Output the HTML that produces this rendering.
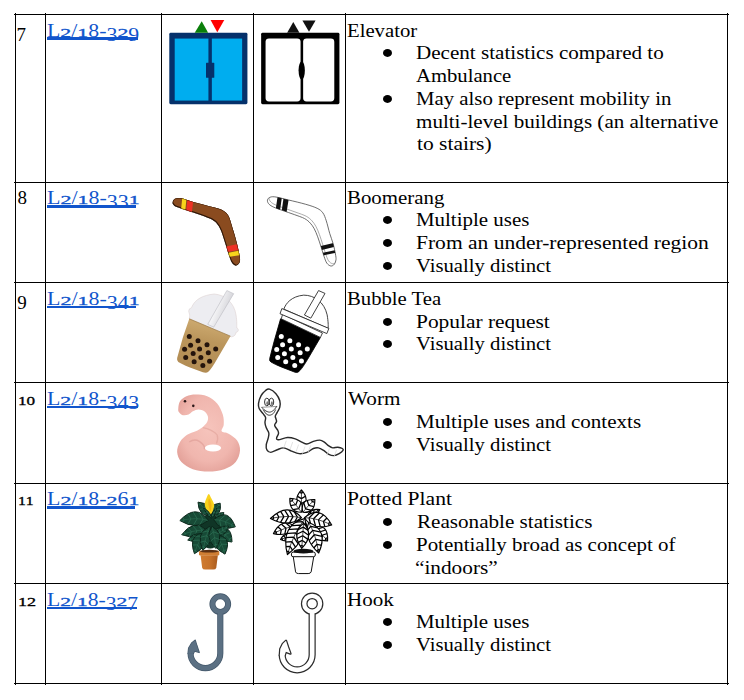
<!DOCTYPE html>
<html lang="en"><head><meta charset="utf-8"><title>Emoji candidates</title>
<style>
html,body{margin:0;padding:0;background:#fff}
body{width:744px;height:700px;position:relative;overflow:hidden;font-family:"Liberation Serif", serif;font-size:19px;color:#000}
.h,.v{position:absolute;background:#000}
.t{position:absolute;white-space:nowrap;line-height:19px;height:19px;transform-origin:0 0}
.lnk{color:#1155cc;text-decoration:none}
.ul{position:absolute;background:#1155cc}
.sm{display:inline-block;-webkit-text-stroke:.45px currentColor;transform:scaleY(.69);transform-origin:0 15.92px}
.lo{position:relative;top:4px}
.dot{position:absolute;width:9px;height:7.8px;border-radius:50%;background:#000}
.ic{position:absolute;width:100px;height:100px;overflow:visible}
</style></head><body>
<div class="h" style="left:14px;top:14px;width:715px;height:1px"></div>
<div class="h" style="left:14px;top:182px;width:715px;height:1px"></div>
<div class="h" style="left:14px;top:282px;width:715px;height:1px"></div>
<div class="h" style="left:14px;top:382px;width:715px;height:1px"></div>
<div class="h" style="left:14px;top:483px;width:715px;height:1px"></div>
<div class="h" style="left:14px;top:583px;width:715px;height:1px"></div>
<div class="h" style="left:14px;top:683px;width:715px;height:1px"></div>
<div class="v" style="left:15px;top:13px;width:1px;height:672px"></div>
<div class="v" style="left:45px;top:13px;width:1px;height:672px"></div>
<div class="v" style="left:161px;top:13px;width:1px;height:672px"></div>
<div class="v" style="left:253px;top:13px;width:1px;height:672px"></div>
<div class="v" style="left:345px;top:13px;width:1px;height:672px"></div>
<div class="v" style="left:727px;top:13px;width:1px;height:672px"></div>
<svg class="ic" style="left:160px;top:14px" viewBox="0 0 700 700" ><rect x="65" y="131" width="547" height="501" rx="10" fill="#05316b"/>
<rect x="103" y="172" width="236" height="434" fill="#00adef"/>
<rect x="363" y="172" width="212" height="434" fill="#00adef"/>
<rect x="322" y="342" width="58" height="104" rx="4" fill="#05316b"/>
<path d="M292 50L243 132H337Z" fill="#0a7f0a"/>
<path d="M354 42H450L401 127Z" fill="#ff0000"/></svg>
<svg class="ic" style="left:250px;top:14px" viewBox="0 0 700 700" ><rect x="78" y="131" width="548" height="501" rx="10" fill="#000"/>
<rect x="109" y="171" width="245" height="441" rx="24" fill="#fff"/>
<rect x="372" y="171" width="218" height="441" rx="24" fill="#fff"/>
<ellipse cx="362" cy="395" rx="22" ry="64" fill="#000"/>
<path d="M303 56L260 131H346Z" fill="#111"/>
<path d="M367 45H459L413 124Z" fill="#111"/></svg>
<svg class="ic" style="left:160px;top:182px" viewBox="0 0 700 700" ><defs><clipPath id="bc"><path d="M88.0 142.0C90.0 135.3 93.3 122.7 104.0 118.0C114.7 113.3 133.3 111.3 152.0 114.0C170.7 116.7 188.0 126.0 216.0 134.0C244.0 142.0 288.0 153.3 320.0 162.0C352.0 170.7 385.3 178.0 408.0 186.0C430.7 194.0 443.3 200.0 456.0 210.0C468.7 220.0 476.0 229.3 484.0 246.0C492.0 262.7 496.7 286.0 504.0 310.0C511.3 334.0 520.7 363.3 528.0 390.0C535.3 416.7 542.7 446.0 548.0 470.0C553.3 494.0 558.7 518.0 560.0 534.0C561.3 550.0 560.7 557.3 556.0 566.0C551.3 574.7 540.7 586.0 532.0 586.0C523.3 586.0 512.0 577.3 504.0 566.0C496.0 554.7 490.7 536.7 484.0 518.0C477.3 499.3 470.7 475.3 464.0 454.0C457.3 432.7 450.7 410.0 444.0 390.0C437.3 370.0 431.3 350.0 424.0 334.0C416.7 318.0 409.3 305.3 400.0 294.0C390.7 282.7 382.7 274.7 368.0 266.0C353.3 257.3 334.7 250.7 312.0 242.0C289.3 233.3 257.3 222.7 232.0 214.0C206.7 205.3 180.0 196.7 160.0 190.0C140.0 183.3 123.3 179.3 112.0 174.0C100.7 168.7 96.0 163.3 92.0 158.0C88.0 152.7 86.0 148.7 88.0 142.0Z"/></clipPath></defs>
<path d="M88.0 142.0C90.0 135.3 93.3 122.7 104.0 118.0C114.7 113.3 133.3 111.3 152.0 114.0C170.7 116.7 188.0 126.0 216.0 134.0C244.0 142.0 288.0 153.3 320.0 162.0C352.0 170.7 385.3 178.0 408.0 186.0C430.7 194.0 443.3 200.0 456.0 210.0C468.7 220.0 476.0 229.3 484.0 246.0C492.0 262.7 496.7 286.0 504.0 310.0C511.3 334.0 520.7 363.3 528.0 390.0C535.3 416.7 542.7 446.0 548.0 470.0C553.3 494.0 558.7 518.0 560.0 534.0C561.3 550.0 560.7 557.3 556.0 566.0C551.3 574.7 540.7 586.0 532.0 586.0C523.3 586.0 512.0 577.3 504.0 566.0C496.0 554.7 490.7 536.7 484.0 518.0C477.3 499.3 470.7 475.3 464.0 454.0C457.3 432.7 450.7 410.0 444.0 390.0C437.3 370.0 431.3 350.0 424.0 334.0C416.7 318.0 409.3 305.3 400.0 294.0C390.7 282.7 382.7 274.7 368.0 266.0C353.3 257.3 334.7 250.7 312.0 242.0C289.3 233.3 257.3 222.7 232.0 214.0C206.7 205.3 180.0 196.7 160.0 190.0C140.0 183.3 123.3 179.3 112.0 174.0C100.7 168.7 96.0 163.3 92.0 158.0C88.0 152.7 86.0 148.7 88.0 142.0Z" fill="#2e1606"/>
<g clip-path="url(#bc)">
<path d="M88.0 142.0C90.0 135.3 93.3 122.7 104.0 118.0C114.7 113.3 133.3 111.3 152.0 114.0C170.7 116.7 188.0 126.0 216.0 134.0C244.0 142.0 288.0 153.3 320.0 162.0C352.0 170.7 385.3 178.0 408.0 186.0C430.7 194.0 443.3 200.0 456.0 210.0C468.7 220.0 476.0 229.3 484.0 246.0C492.0 262.7 496.7 286.0 504.0 310.0C511.3 334.0 520.7 363.3 528.0 390.0C535.3 416.7 542.7 446.0 548.0 470.0C553.3 494.0 558.7 518.0 560.0 534.0C561.3 550.0 560.7 557.3 556.0 566.0C551.3 574.7 540.7 586.0 532.0 586.0C523.3 586.0 512.0 577.3 504.0 566.0C496.0 554.7 490.7 536.7 484.0 518.0C477.3 499.3 470.7 475.3 464.0 454.0C457.3 432.7 450.7 410.0 444.0 390.0C437.3 370.0 431.3 350.0 424.0 334.0C416.7 318.0 409.3 305.3 400.0 294.0C390.7 282.7 382.7 274.7 368.0 266.0C353.3 257.3 334.7 250.7 312.0 242.0C289.3 233.3 257.3 222.7 232.0 214.0C206.7 205.3 180.0 196.7 160.0 190.0C140.0 183.3 123.3 179.3 112.0 174.0C100.7 168.7 96.0 163.3 92.0 158.0C88.0 152.7 86.0 148.7 88.0 142.0Z" fill="#8a4b1f" transform="translate(5 -7)"/>
<path d="M157 100L186 106L176 212L146 204Z" fill="#f7d51c"/>
<path d="M194 106L234 118L222 224L182 212Z" fill="#ee3124"/>
<path d="M440 456L560 430L570 472L452 494Z" fill="#ee3124"/>
<path d="M452 500L572 478L580 508L460 528Z" fill="#f7d51c"/>
<path d="M88.0 142.0C90.0 135.3 93.3 122.7 104.0 118.0C114.7 113.3 133.3 111.3 152.0 114.0C170.7 116.7 188.0 126.0 216.0 134.0C244.0 142.0 288.0 153.3 320.0 162.0C352.0 170.7 385.3 178.0 408.0 186.0C430.7 194.0 443.3 200.0 456.0 210.0C468.7 220.0 476.0 229.3 484.0 246.0C492.0 262.7 496.7 286.0 504.0 310.0C511.3 334.0 520.7 363.3 528.0 390.0C535.3 416.7 542.7 446.0 548.0 470.0C553.3 494.0 558.7 518.0 560.0 534.0C561.3 550.0 560.7 557.3 556.0 566.0C551.3 574.7 540.7 586.0 532.0 586.0C523.3 586.0 512.0 577.3 504.0 566.0C496.0 554.7 490.7 536.7 484.0 518.0C477.3 499.3 470.7 475.3 464.0 454.0C457.3 432.7 450.7 410.0 444.0 390.0C437.3 370.0 431.3 350.0 424.0 334.0C416.7 318.0 409.3 305.3 400.0 294.0C390.7 282.7 382.7 274.7 368.0 266.0C353.3 257.3 334.7 250.7 312.0 242.0C289.3 233.3 257.3 222.7 232.0 214.0C206.7 205.3 180.0 196.7 160.0 190.0C140.0 183.3 123.3 179.3 112.0 174.0C100.7 168.7 96.0 163.3 92.0 158.0C88.0 152.7 86.0 148.7 88.0 142.0Z" fill="none" stroke="#2e1606" stroke-width="5"/>
</g></svg>
<svg class="ic" style="left:250px;top:182px" viewBox="0 0 700 700" ><defs><clipPath id="bw"><path d="M122.0 132.0C122.0 124.3 125.3 114.7 134.0 110.0C142.7 105.3 151.3 101.3 174.0 104.0C196.7 106.7 234.0 117.3 270.0 126.0C306.0 134.7 356.7 146.3 390.0 156.0C423.3 165.7 450.0 174.0 470.0 184.0C490.0 194.0 499.3 201.3 510.0 216.0C520.7 230.7 526.0 248.0 534.0 272.0C542.0 296.0 550.0 333.3 558.0 360.0C566.0 386.7 575.3 408.0 582.0 432.0C588.7 456.0 594.7 485.3 598.0 504.0C601.3 522.7 603.3 532.0 602.0 544.0C600.7 556.0 596.0 568.7 590.0 576.0C584.0 583.3 574.7 589.3 566.0 588.0C557.3 586.7 546.0 579.3 538.0 568.0C530.0 556.7 524.7 538.7 518.0 520.0C511.3 501.3 505.3 478.7 498.0 456.0C490.7 433.3 482.0 405.3 474.0 384.0C466.0 362.7 458.7 344.0 450.0 328.0C441.3 312.0 433.3 300.0 422.0 288.0C410.7 276.0 400.7 266.0 382.0 256.0C363.3 246.0 335.3 237.3 310.0 228.0C284.7 218.7 254.0 208.7 230.0 200.0C206.0 191.3 182.0 183.3 166.0 176.0C150.0 168.7 141.3 163.3 134.0 156.0C126.7 148.7 122.0 139.7 122.0 132.0Z"/></clipPath></defs>
<path d="M122.0 132.0C122.0 124.3 125.3 114.7 134.0 110.0C142.7 105.3 151.3 101.3 174.0 104.0C196.7 106.7 234.0 117.3 270.0 126.0C306.0 134.7 356.7 146.3 390.0 156.0C423.3 165.7 450.0 174.0 470.0 184.0C490.0 194.0 499.3 201.3 510.0 216.0C520.7 230.7 526.0 248.0 534.0 272.0C542.0 296.0 550.0 333.3 558.0 360.0C566.0 386.7 575.3 408.0 582.0 432.0C588.7 456.0 594.7 485.3 598.0 504.0C601.3 522.7 603.3 532.0 602.0 544.0C600.7 556.0 596.0 568.7 590.0 576.0C584.0 583.3 574.7 589.3 566.0 588.0C557.3 586.7 546.0 579.3 538.0 568.0C530.0 556.7 524.7 538.7 518.0 520.0C511.3 501.3 505.3 478.7 498.0 456.0C490.7 433.3 482.0 405.3 474.0 384.0C466.0 362.7 458.7 344.0 450.0 328.0C441.3 312.0 433.3 300.0 422.0 288.0C410.7 276.0 400.7 266.0 382.0 256.0C363.3 246.0 335.3 237.3 310.0 228.0C284.7 218.7 254.0 208.7 230.0 200.0C206.0 191.3 182.0 183.3 166.0 176.0C150.0 168.7 141.3 163.3 134.0 156.0C126.7 148.7 122.0 139.7 122.0 132.0Z" fill="#fff" stroke="#555" stroke-width="6"/>
<g clip-path="url(#bw)">
<path d="M122.0 132.0C122.0 124.3 125.3 114.7 134.0 110.0C142.7 105.3 151.3 101.3 174.0 104.0C196.7 106.7 234.0 117.3 270.0 126.0C306.0 134.7 356.7 146.3 390.0 156.0C423.3 165.7 450.0 174.0 470.0 184.0C490.0 194.0 499.3 201.3 510.0 216.0C520.7 230.7 526.0 248.0 534.0 272.0C542.0 296.0 550.0 333.3 558.0 360.0C566.0 386.7 575.3 408.0 582.0 432.0C588.7 456.0 594.7 485.3 598.0 504.0C601.3 522.7 603.3 532.0 602.0 544.0C600.7 556.0 596.0 568.7 590.0 576.0C584.0 583.3 574.7 589.3 566.0 588.0C557.3 586.7 546.0 579.3 538.0 568.0C530.0 556.7 524.7 538.7 518.0 520.0C511.3 501.3 505.3 478.7 498.0 456.0C490.7 433.3 482.0 405.3 474.0 384.0C466.0 362.7 458.7 344.0 450.0 328.0C441.3 312.0 433.3 300.0 422.0 288.0C410.7 276.0 400.7 266.0 382.0 256.0C363.3 246.0 335.3 237.3 310.0 228.0C284.7 218.7 254.0 208.7 230.0 200.0C206.0 191.3 182.0 183.3 166.0 176.0C150.0 168.7 141.3 163.3 134.0 156.0C126.7 148.7 122.0 139.7 122.0 132.0Z" fill="none" stroke="#888" stroke-width="5" transform="translate(12 -16)"/>
<path d="M194 96L224 102L210 200L180 192Z" fill="#111"/>
<path d="M236 104L272 114L256 212L222 202Z" fill="#111"/>
<path d="M480 452L600 424L606 450L488 480Z" fill="#111"/>
<path d="M494 498L612 474L616 492L500 516Z" fill="#111"/>
</g></svg>
<svg class="ic" style="left:160px;top:282px" viewBox="0 0 700 700" ><defs><linearGradient id="tg" x1="0.3" y1="0" x2="0.1" y2="1"><stop offset="0" stop-color="#cdaa70"/><stop offset="0.35" stop-color="#bb965c"/><stop offset="1" stop-color="#b08a52"/></linearGradient>
<linearGradient id="sg" x1="0" y1="0" x2="1" y2="0.55"><stop offset="0" stop-color="#c2c2c8"/><stop offset="0.45" stop-color="#f4f4f6"/><stop offset="1" stop-color="#c6c6cc"/></linearGradient></defs>
<path d="M205 256 C215 215 195 215 203 196 C205 180 222 190 226 168 C250 120 300 92 380 84 C460 90 520 150 532 230 C540 280 536 300 538 322 C556 330 548 352 532 352 C530 370 520 382 500 384 Z" fill="#ededf1" stroke="#dccfd0" stroke-width="4"/>
<path d="M205 258 L493 379 L404 532 Q360 610 340 626 Q326 640 300 632 L205 596 Q150 575 128 560 Q116 550 120 532 L160 388 Z" fill="url(#tg)"/>
<path d="M205 258 L493 379" stroke="#9a7842" stroke-width="5" fill="none"/>
<path d="M468 60 L516 82 L376 316 L334 296 Z" fill="url(#sg)" stroke="#b9b9c0" stroke-width="4" stroke-linejoin="round"/>
<g fill="#24140c"><circle cx="205" cy="382" r="17.5"/><circle cx="266" cy="411" r="17.5"/><circle cx="214" cy="442" r="17.5"/><circle cx="329" cy="440" r="17.5"/><circle cx="172" cy="471" r="17.5"/><circle cx="277" cy="469" r="17.5"/><circle cx="390" cy="469" r="17.5"/><circle cx="232" cy="501" r="17.5"/><circle cx="338" cy="496" r="17.5"/><circle cx="180" cy="528" r="17.5"/><circle cx="286" cy="529" r="17.5"/><circle cx="239" cy="559" r="17.5"/><circle cx="347" cy="555" r="17.5"/><circle cx="300" cy="584" r="17.5"/></g></svg>
<svg class="ic" style="left:250px;top:282px" viewBox="0 0 700 700" ><g stroke="#222" stroke-width="6" stroke-linejoin="round" fill="#fff">
<path d="M237 190 C250 150 290 100 376 92 C450 92 520 140 540 230 C548 280 548 300 547 325 Z"/>
<path d="M480 60 L525 80 L426 253 L381 231 Z"/>
<path d="M214 258 L493 388 L430 496 Q370 600 349 620 Q338 638 316 632 L223 596 Q170 575 147 560 Q134 552 138 536 L169 415 Z" fill="#000" stroke="#000"/>
<path d="M228 226 L219 258 L493 388 L507 357 Z"/>
<path d="M223 186 L210 222 L538 361 L552 325 Z"/>
</g>
<g fill="#fff"><circle cx="219" cy="381" r="17.5"/><circle cx="279" cy="411" r="17.5"/><circle cx="228" cy="440" r="17.5"/><circle cx="340" cy="440" r="17.5"/><circle cx="187" cy="472" r="17.5"/><circle cx="289" cy="469" r="17.5"/><circle cx="401" cy="469" r="17.5"/><circle cx="241" cy="502" r="17.5"/><circle cx="351" cy="496" r="17.5"/><circle cx="194" cy="529" r="17.5"/><circle cx="300" cy="529" r="17.5"/><circle cx="250" cy="559" r="17.5"/><circle cx="360" cy="553" r="17.5"/><circle cx="313" cy="584" r="17.5"/></g></svg>
<svg class="ic" style="left:160px;top:382px" viewBox="0 0 700 700" ><defs><radialGradient id="wg" cx="0.5" cy="0.45" r="0.6"><stop offset="0" stop-color="#f6c4bc"/><stop offset="0.7" stop-color="#f0b6ae"/><stop offset="1" stop-color="#e4a29a"/></radialGradient></defs>
<path d="M128.0 185.0C129.2 172.2 130.5 149.2 140.0 135.0C149.5 120.8 166.7 107.8 185.0 100.0C203.3 92.2 225.8 88.0 250.0 88.0C274.2 88.0 305.0 89.7 330.0 100.0C355.0 110.3 381.7 128.3 400.0 150.0C418.3 171.7 432.3 205.0 440.0 230.0C447.7 255.0 447.3 280.8 446.0 300.0C444.7 319.2 426.3 334.7 432.0 345.0C437.7 355.3 462.0 351.2 480.0 362.0C498.0 372.8 526.7 390.3 540.0 410.0C553.3 429.7 561.7 455.0 560.0 480.0C558.3 505.0 548.3 538.3 530.0 560.0C511.7 581.7 481.7 599.0 450.0 610.0C418.3 621.0 376.7 626.0 340.0 626.0C303.3 626.0 261.7 621.0 230.0 610.0C198.3 599.0 168.3 580.0 150.0 560.0C131.7 540.0 121.7 513.3 120.0 490.0C118.3 466.7 128.3 440.0 140.0 420.0C151.7 400.0 171.7 382.5 190.0 370.0C208.3 357.5 232.5 353.7 250.0 345.0C267.5 336.3 281.7 328.8 295.0 318.0C308.3 307.2 323.3 293.0 330.0 280.0C336.7 267.0 338.3 252.5 335.0 240.0C331.7 227.5 320.8 213.0 310.0 205.0C299.2 197.0 283.3 192.0 270.0 192.0C256.7 192.0 241.7 199.0 230.0 205.0C218.3 211.0 211.7 223.5 200.0 228.0C188.3 232.5 171.2 234.7 160.0 232.0C148.8 229.3 138.3 219.8 133.0 212.0C127.7 204.2 126.8 197.8 128.0 185.0Z" fill="url(#wg)"/>
<path d="M205 420 Q240 395 275 415 Q320 445 310 470" fill="none" stroke="#e0a098" stroke-width="10" opacity=".7"/>
<path d="M300 320 Q360 330 400 370 Q410 400 395 430" fill="none" stroke="#e3a59d" stroke-width="9" opacity=".7"/>
<ellipse cx="371" cy="462" rx="57" ry="25" fill="#fff"/>
<circle cx="175" cy="135" r="9" fill="#2a1718"/><circle cx="233" cy="167" r="9" fill="#2a1718"/></svg>
<svg class="ic" style="left:250px;top:382px" viewBox="0 0 700 700" ><path d="M136.4 50.1C148.4 53.9 169.5 68.2 181.5 81.7C193.5 95.3 204.1 115.6 208.6 131.4C213.1 147.2 211.6 163.0 208.6 176.5C205.6 190.1 195.8 202.1 190.5 212.7C185.3 223.2 177.7 229.2 177.0 239.8C176.2 250.3 186.8 265.3 186.0 275.9C185.3 286.4 171.0 292.4 172.5 303.0C174.0 313.5 190.5 329.3 195.1 339.1C199.6 348.9 201.1 352.6 199.6 361.7C198.1 370.7 186.0 386.2 186.0 393.3C186.0 400.3 186.8 404.8 199.6 404.1C212.4 403.3 243.2 389.8 262.8 388.7C282.3 387.7 300.4 392.5 317.0 397.8C333.5 403.0 348.6 414.3 362.1 420.4C375.7 426.4 384.7 434.6 398.2 433.9C411.8 433.1 428.3 420.4 443.4 415.8C458.4 411.3 475.7 406.1 488.5 406.8C501.3 407.6 509.6 413.6 520.1 420.4C530.7 427.1 542.0 440.7 551.7 447.4C561.5 454.2 568.3 459.5 578.8 461.0C589.4 462.5 603.7 455.7 615.0 456.5C626.2 457.2 640.5 461.7 646.6 465.5C652.6 469.3 654.8 473.0 651.1 479.0C647.3 485.1 634.5 495.6 624.0 501.6C613.4 507.6 599.9 514.4 587.9 515.2C575.8 515.9 563.8 512.2 551.7 506.1C539.7 500.1 527.7 486.6 515.6 479.0C503.6 471.5 491.5 463.2 479.5 461.0C467.5 458.7 456.9 460.2 443.4 465.5C429.8 470.8 414.8 486.6 398.2 492.6C381.7 498.6 362.1 503.1 344.1 501.6C326.0 500.1 307.9 490.3 289.9 483.6C271.8 476.8 252.2 462.5 235.7 461.0C219.1 459.5 205.6 469.3 190.5 474.5C175.5 479.8 157.4 492.6 145.4 492.6C133.3 492.6 123.6 483.6 118.3 474.5C113.0 465.5 112.3 452.0 113.8 438.4C115.3 424.9 124.3 406.8 127.3 393.3C130.3 379.7 134.1 369.2 131.8 357.1C129.6 345.1 118.3 333.1 113.8 321.0C109.3 309.0 105.5 296.9 104.8 284.9C104.0 272.9 111.5 259.3 109.3 248.8C107.0 238.2 98.7 232.2 91.2 221.7C83.7 211.2 69.4 197.6 64.1 185.6C58.9 173.5 57.3 164.5 59.6 149.5C61.9 134.4 69.4 110.3 77.7 95.3C85.9 80.2 99.5 66.7 109.3 59.1C119.1 51.6 124.3 46.4 136.4 50.1Z" fill="#fff" stroke="#2a2a2a" stroke-width="10" stroke-linejoin="round"/>
<g fill="none" stroke="#333" stroke-width="7">
<ellipse cx="118" cy="140" rx="16" ry="27"/><ellipse cx="150" cy="140" rx="16" ry="27"/>
<path d="M80.4 174.7C84.4 178.8 95.4 193.1 104.8 199.1C114.1 205.1 126.6 210.9 136.4 210.9C146.1 210.9 154.7 206.0 163.5 199.1C172.2 192.2 184.5 174.3 188.7 169.3"/><path d="M91.2 192.8C95.0 197.9 106.0 216.9 113.8 223.5C121.6 230.1 129.9 233.1 138.2 232.5C146.4 231.9 156.5 226.5 163.5 219.9C170.4 213.3 177.0 197.3 179.7 192.8"/>
<path d="M82 177L189 171" stroke-width="3.5"/>
</g>
<ellipse cx="121" cy="148" rx="7" ry="13" fill="#777"/><ellipse cx="153" cy="148" rx="7" ry="13" fill="#777"/>
<g stroke="#d8d8d8" stroke-width="5" fill="none"><path d="M254 411l-18 50" /><path d="M299 420l-18 50" /><path d="M340 438l-18 50" /><path d="M385 452l-18 50" /><path d="M425 443l-18 50" /><path d="M556 466l-18 50" /><path d="M606 475l-18 50" /></g></svg>
<svg class="ic" style="left:160px;top:583px" viewBox="0 0 700 700" ><g fill="none" stroke="#43576a" stroke-linejoin="round"><circle cx="422" cy="147.5" r="55.0" stroke-width="42"/><path d="M422 205L422 492A104 104 0 0 1 214 492" stroke-width="43"/><polygon points="197,494 201,455 222,420 246,401 258,440 274,486 243,476 232,494" fill="#43576a" stroke-width="10"/></g><g fill="none" stroke="#5b7083" stroke-linejoin="round"><circle cx="422" cy="147.5" r="55.0" stroke-width="32"/><path d="M422 205L422 492A104 104 0 0 1 214 492" stroke-width="33"/><polygon points="197,494 201,455 222,420 246,401 258,440 274,486 243,476 232,494" fill="#5b7083" stroke="none"/></g></svg>
<svg class="ic" style="left:250px;top:583px" viewBox="0 0 700 700" ><g fill="none" stroke="#2b2b2b" stroke-linejoin="round"><circle cx="435" cy="145" r="55.5" stroke-width="47"/><path d="M435 210L435 503A104.7 104.7 0 0 1 225.3 503" stroke-width="50"/><polygon points="209,505 212,462 230,426 252,405 266,448 283,494 251,482 243,505" fill="#2b2b2b" stroke-width="17"/></g><g fill="none" stroke="#ffffff" stroke-linejoin="round"><circle cx="435" cy="145" r="55.5" stroke-width="30.0"/><path d="M435 210L435 503A104.7 104.7 0 0 1 225.3 503" stroke-width="33"/><polygon points="209,505 212,462 230,426 252,405 266,448 283,494 251,482 243,505" fill="#ffffff" stroke="none"/></g></svg>
<svg class="ic" style="left:160px;top:483px" viewBox="0 0 700 700" ><defs><linearGradient id="pg" x1="0" y1="0" x2="1" y2="0"><stop offset="0" stop-color="#d07c30"/><stop offset="0.55" stop-color="#c6722a"/><stop offset="1" stop-color="#a85a1e"/></linearGradient></defs><path d="M284 506L405 506L394 593Q390 606 373 606L316 606Q299 606 295 593Z" fill="url(#pg)"/><rect x="273" y="474" width="142" height="34" rx="10" fill="#cf7e33"/><ellipse cx="345" cy="477" rx="65" ry="10" fill="#5a2f12"/><ellipse cx="352" cy="338" rx="80" ry="120" fill="#103526"/><clipPath id="lf1"><path d="M352 232Q372 142 266 134Q270 231 352 232Z"/></clipPath><path d="M352 232Q372 142 266 134Q270 231 352 232Z" fill="#174a36" stroke="#0b2419" stroke-width="7" stroke-linejoin="round"/><g clip-path="url(#lf1)" fill="none" stroke="#2f7357"><path d="M333 206L348 161M333 206L286 215M310 179L325 134M310 179L264 188M284 151L299 106M284 151L238 160" stroke-width="5"/><path d="M352 232Q321 186 266 134" stroke-width="4"/></g><clipPath id="lf2"><path d="M360 232Q436 228 421 141Q324 152 360 232Z"/></clipPath><path d="M360 232Q436 228 421 141Q324 152 360 232Z" fill="#174a36" stroke="#0b2419" stroke-width="7" stroke-linejoin="round"/><g clip-path="url(#lf2)" fill="none" stroke="#2f7357"><path d="M373 208L420 211M373 208L352 165M389 183L436 186M389 183L368 140M408 157L455 160M408 157L388 114" stroke-width="5"/><path d="M360 232Q380 190 421 141" stroke-width="4"/></g><clipPath id="lf3"><path d="M386 262Q440 272 447 207Q382 206 386 262Z"/></clipPath><path d="M386 262Q440 272 447 207Q382 206 386 262Z" fill="#174a36" stroke="#0b2419" stroke-width="7" stroke-linejoin="round"/><g clip-path="url(#lf3)" fill="none" stroke="#2f7357"><path d="M401 248L430 258M401 248L395 218M417 233L446 243M417 233L411 203M435 217L464 227M435 217L429 187" stroke-width="5"/><path d="M386 262Q411 239 447 207" stroke-width="4"/></g><clipPath id="lf4"><path d="M339 262Q254 141 139 263Q255 333 339 262Z"/></clipPath><path d="M339 262Q254 141 139 263Q255 333 339 262Z" fill="#174a36" stroke="#0b2419" stroke-width="7" stroke-linejoin="round"/><g clip-path="url(#lf4)" fill="none" stroke="#2f7357"><path d="M301 253L267 196M301 253L268 311M260 250L226 192M260 250L227 308M216 251L182 194M216 251L183 309M169 257L135 200M169 257L136 315" stroke-width="5"/><path d="M339 262Q255 237 139 263" stroke-width="4"/></g><clipPath id="lf5"><path d="M377 257Q419 343 527 307Q476 168 377 257Z"/></clipPath><path d="M377 257Q419 343 527 307Q476 168 377 257Z" fill="#174a36" stroke="#0b2419" stroke-width="7" stroke-linejoin="round"/><g clip-path="url(#lf5)" fill="none" stroke="#2f7357"><path d="M417 260L430 323M417 260L465 218M458 272L472 334M458 272L506 229M501 291L515 353M501 291L549 249" stroke-width="5"/><path d="M377 257Q448 255 527 307" stroke-width="4"/></g><clipPath id="lf6"><path d="M330 330Q238 246 152 362Q266 403 330 330Z"/></clipPath><path d="M330 330Q238 246 152 362Q266 403 330 330Z" fill="#174a36" stroke="#0b2419" stroke-width="7" stroke-linejoin="round"/><g clip-path="url(#lf6)" fill="none" stroke="#2f7357"><path d="M295 329L259 287M295 329L276 382M258 333L222 291M258 333L239 385M219 341L183 299M219 341L200 393M178 353L141 311M178 353L159 405" stroke-width="5"/><path d="M330 330Q252 325 152 362" stroke-width="4"/></g><clipPath id="lf7"><path d="M390 321Q397 411 504 413Q502 279 390 321Z"/></clipPath><path d="M390 321Q397 411 504 413Q502 279 390 321Z" fill="#174a36" stroke="#0b2419" stroke-width="7" stroke-linejoin="round"/><g clip-path="url(#lf7)" fill="none" stroke="#2f7357"><path d="M423 338L414 395M423 338L477 317M455 361L446 419M455 361L509 340M486 391L478 449M486 391L541 370" stroke-width="5"/><path d="M390 321Q450 345 504 413" stroke-width="4"/></g><clipPath id="lf8"><path d="M313 376Q252 326 194 399Q272 429 313 376Z"/></clipPath><path d="M313 376Q252 326 194 399Q272 429 313 376Z" fill="#174a36" stroke="#0b2419" stroke-width="7" stroke-linejoin="round"/><g clip-path="url(#lf8)" fill="none" stroke="#2f7357"><path d="M283 379L260 351M283 379L271 413M251 384L227 357M251 384L239 418M216 393L193 365M216 393L204 427" stroke-width="5"/><path d="M313 376Q262 378 194 399" stroke-width="4"/></g><clipPath id="lf9"><path d="M394 364Q460 380 479 302Q399 296 394 364Z"/></clipPath><path d="M394 364Q460 380 479 302Q399 296 394 364Z" fill="#174a36" stroke="#0b2419" stroke-width="7" stroke-linejoin="round"/><g clip-path="url(#lf9)" fill="none" stroke="#2f7357"><path d="M415 348L448 363M415 348L411 313M438 332L471 347M438 332L434 296M463 314L496 329M463 314L459 278" stroke-width="5"/><path d="M394 364Q430 338 479 302" stroke-width="4"/></g><clipPath id="lf10"><path d="M322 346Q191 356 241 495Q346 440 322 346Z"/></clipPath><path d="M322 346Q191 356 241 495Q346 440 322 346Z" fill="#174a36" stroke="#0b2419" stroke-width="7" stroke-linejoin="round"/><g clip-path="url(#lf10)" fill="none" stroke="#2f7357"><path d="M300 371L239 373M300 371L331 423M280 400L219 402M280 400L312 452M263 433L202 435M263 433L295 486M249 471L187 473M249 471L280 523" stroke-width="5"/><path d="M322 346Q268 398 241 495" stroke-width="4"/></g><clipPath id="lf11"><path d="M386 364Q356 450 455 498Q512 369 386 364Z"/></clipPath><path d="M386 364Q356 450 455 498Q512 369 386 364Z" fill="#174a36" stroke="#0b2419" stroke-width="7" stroke-linejoin="round"/><g clip-path="url(#lf11)" fill="none" stroke="#2f7357"><path d="M410 392L378 444M410 392L472 395M431 428L398 479M431 428L492 431M447 470L415 521M447 470L509 473" stroke-width="5"/><path d="M386 364Q434 410 455 498" stroke-width="4"/></g><clipPath id="lf12"><path d="M347 304Q244 351 300 471Q398 394 347 304Z"/></clipPath><path d="M347 304Q244 351 300 471Q398 394 347 304Z" fill="#174a36" stroke="#0b2419" stroke-width="7" stroke-linejoin="round"/><g clip-path="url(#lf12)" fill="none" stroke="#2f7357"><path d="M336 335L282 349M336 335L375 375M326 369L272 383M326 369L364 409M315 406L262 420M315 406L354 446M306 446L252 460M306 446L345 486" stroke-width="5"/><path d="M347 304Q321 373 300 471" stroke-width="4"/></g><clipPath id="lf13"><path d="M364 304Q308 381 392 459Q458 354 364 304Z"/></clipPath><path d="M364 304Q308 381 392 459Q458 354 364 304Z" fill="#174a36" stroke="#0b2419" stroke-width="7" stroke-linejoin="round"/><g clip-path="url(#lf13)" fill="none" stroke="#2f7357"><path d="M374 342L334 376M374 342L423 360M382 383L342 418M382 383L432 401M389 429L349 463M389 429L438 447" stroke-width="5"/><path d="M364 304Q383 368 392 459" stroke-width="4"/></g><path d="M341.3 76.2C347.2 76.2 353.8 96.0 360.0 108.5C366.2 121.0 377.0 136.8 378.7 151.0C380.4 165.2 375.0 181.5 370.2 193.5C365.4 205.5 356.9 223.2 349.8 223.2C342.7 223.2 333.8 205.5 327.7 193.5C321.6 181.5 313.8 165.2 313.2 151.0C312.7 136.8 319.6 121.0 324.3 108.5C329.0 96.0 335.3 76.2 341.3 76.2Z" fill="#f8d21c"/><path d="M343.0 108.5C346.5 108.5 358.3 136.1 360.0 151.0C361.7 165.9 356.7 197.8 353.2 197.8C349.7 197.8 340.4 165.9 338.8 151.0C337.1 136.1 339.5 108.5 343.0 108.5Z" fill="#f2b312"/><clipPath id="lf14"><path d="M360 244Q355 201 305 176Q327 224 360 244Z"/></clipPath><path d="M360 244Q355 201 305 176Q327 224 360 244Z" fill="#174a36" stroke="#0b2419" stroke-width="7" stroke-linejoin="round"/><g clip-path="url(#lf14)" fill="none" stroke="#2f7357"><path d="M348 226L353 215M348 226L336 228M334 208L338 196M334 208L321 209M316 188L321 177M316 188L304 190" stroke-width="5"/><path d="M360 244Q341 212 305 176" stroke-width="4"/></g><clipPath id="lf15"><path d="M360 246Q387 223 398 176Q355 205 360 246Z"/></clipPath><path d="M360 246Q387 223 398 176Q355 205 360 246Z" fill="#174a36" stroke="#0b2419" stroke-width="7" stroke-linejoin="round"/><g clip-path="url(#lf15)" fill="none" stroke="#2f7357"><path d="M367 228L380 228M367 228L361 217M377 209L390 208M377 209L371 198M390 189L402 189M390 189L383 178" stroke-width="5"/><path d="M360 246Q371 214 398 176" stroke-width="4"/></g></svg>
<svg class="ic" style="left:250px;top:483px" viewBox="0 0 700 700" ><path d="M302 511L447 511L428 622Q424 634 407 634L339 634Q322 634 319 622Z" fill="#fff" stroke="#111" stroke-width="7"/><rect x="290" y="484" width="167" height="32" rx="12" fill="#fff" stroke="#111" stroke-width="7"/><ellipse cx="374" cy="477" rx="70" ry="16" fill="#111"/><ellipse cx="364" cy="316" rx="40" ry="60" fill="#000"/><clipPath id="lf16"><path d="M360 175Q426 122 360 48Q294 122 360 175Z"/></clipPath><path d="M360 175Q426 122 360 48Q294 122 360 175Z" fill="#fff" stroke="#000" stroke-width="8" stroke-linejoin="round"/><g clip-path="url(#lf16)" fill="none" stroke="#000"><path d="M360 144L400 121M360 144L320 121M360 109L400 86M360 109L320 86M360 72L400 49M360 72L320 49" stroke-width="9"/><path d="M360 175Q360 122 360 48" stroke-width="5"/></g><clipPath id="lf17"><path d="M360 205Q389 112 279 107Q274 207 360 205Z"/></clipPath><path d="M360 205Q389 112 279 107Q274 207 360 205Z" fill="#fff" stroke="#000" stroke-width="8" stroke-linejoin="round"/><g clip-path="url(#lf17)" fill="none" stroke="#000"><path d="M342 179L360 130M342 179L291 188M321 152L339 104M321 152L270 161M296 125L314 76M296 125L245 133" stroke-width="9"/><path d="M360 205Q331 160 279 107" stroke-width="5"/></g><clipPath id="lf18"><path d="M370 205Q455 214 454 116Q346 112 370 205Z"/></clipPath><path d="M370 205Q455 214 454 116Q346 112 370 205Z" fill="#fff" stroke="#000" stroke-width="8" stroke-linejoin="round"/><g clip-path="url(#lf18)" fill="none" stroke="#000"><path d="M389 181L439 193M389 181L374 131M411 157L461 168M411 157L396 107M436 131L487 143M436 131L421 82" stroke-width="9"/><path d="M370 205Q400 163 454 116" stroke-width="5"/></g><clipPath id="lf19"><path d="M402 235Q460 253 489 186Q417 176 402 235Z"/></clipPath><path d="M402 235Q460 253 489 186Q417 176 402 235Z" fill="#fff" stroke="#000" stroke-width="8" stroke-linejoin="round"/><g clip-path="url(#lf19)" fill="none" stroke="#000"><path d="M424 223L450 238M424 223L424 192M447 210L474 225M447 210L448 179M473 195L499 211M473 195L473 165" stroke-width="9"/><path d="M402 235Q439 214 489 186" stroke-width="5"/></g><clipPath id="lf20"><path d="M360 243Q267 131 143 248Q270 315 360 243Z"/></clipPath><path d="M360 243Q267 131 143 248Q270 315 360 243Z" fill="#fff" stroke="#000" stroke-width="8" stroke-linejoin="round"/><g clip-path="url(#lf20)" fill="none" stroke="#000"><path d="M332 238L298 183M332 238L300 294M301 235L268 180M301 235L270 291M270 234L236 179M270 234L239 290M237 235L203 180M237 235L205 291M202 238L169 183M202 238L171 294M166 243L132 189M166 243L135 299" stroke-width="9"/><path d="M360 243Q269 223 143 248" stroke-width="5"/></g><clipPath id="lf21"><path d="M381 243Q442 339 572 294Q493 148 381 243Z"/></clipPath><path d="M381 243Q442 339 572 294Q493 148 381 243Z" fill="#fff" stroke="#000" stroke-width="8" stroke-linejoin="round"/><g clip-path="url(#lf21)" fill="none" stroke="#000"><path d="M413 245L431 311M413 245L461 196M445 250L463 316M445 250L494 201M479 258L497 324M479 258L528 209M514 269L532 336M514 269L563 221M550 284L568 350M550 284L599 235" stroke-width="9"/><path d="M381 243Q467 243 572 294" stroke-width="5"/></g><clipPath id="lf22"><path d="M313 303Q222 239 164 354Q270 380 313 303Z"/></clipPath><path d="M313 303Q222 239 164 354Q270 380 313 303Z" fill="#fff" stroke="#000" stroke-width="8" stroke-linejoin="round"/><g clip-path="url(#lf22)" fill="none" stroke="#000"><path d="M283 308L244 274M283 308L273 358M252 316L213 282M252 316L242 367M219 328L180 294M219 328L209 379M185 343L146 309M185 343L175 394" stroke-width="9"/><path d="M313 303Q246 310 164 354" stroke-width="5"/></g><clipPath id="lf23"><path d="M441 311Q437 401 543 405Q550 278 441 311Z"/></clipPath><path d="M441 311Q437 401 543 405Q550 278 441 311Z" fill="#fff" stroke="#000" stroke-width="8" stroke-linejoin="round"/><g clip-path="url(#lf23)" fill="none" stroke="#000"><path d="M464 325L451 382M464 325L519 308M486 343L474 399M486 343L542 325M508 364L496 420M508 364L564 347M530 388L518 445M530 388L585 371" stroke-width="9"/><path d="M441 311Q494 339 543 405" stroke-width="5"/></g><clipPath id="lf24"><path d="M288 375Q243 337 214 396Q267 421 288 375Z"/></clipPath><path d="M288 375Q243 337 214 396Q267 421 288 375Z" fill="#fff" stroke="#000" stroke-width="8" stroke-linejoin="round"/><g clip-path="url(#lf24)" fill="none" stroke="#000"><path d="M269 378L247 357M269 378L262 408M249 384L227 362M249 384L241 413M227 391L205 370M227 391L220 421" stroke-width="9"/><path d="M288 375Q255 379 214 396" stroke-width="5"/></g><clipPath id="lf25"><path d="M411 277Q369 390 481 490Q553 329 411 277Z"/></clipPath><path d="M411 277Q369 390 481 490Q553 329 411 277Z" fill="#fff" stroke="#000" stroke-width="8" stroke-linejoin="round"/><g clip-path="url(#lf25)" fill="none" stroke="#000"><path d="M426 303L381 354M426 303L491 317M439 332L394 382M439 332L504 346M450 362L406 412M450 362L516 376M461 395L416 445M461 395L526 409M469 429L425 480M469 429L535 444M477 466L432 517M477 466L543 481" stroke-width="9"/><path d="M411 277Q461 360 481 490" stroke-width="5"/></g><clipPath id="lf26"><path d="M386 248Q209 293 262 501Q407 389 386 248Z"/></clipPath><path d="M386 248Q209 293 262 501Q407 389 386 248Z" fill="#fff" stroke="#000" stroke-width="8" stroke-linejoin="round"/><g clip-path="url(#lf26)" fill="none" stroke="#000"><path d="M368 270L292 276M368 270L410 334M351 295L275 300M351 295L394 358M335 321L259 327M335 321L378 384M320 349L244 355M320 349L363 412M306 379L230 384M306 379L348 442M293 410L217 416M293 410L335 474M280 444L204 449M280 444L323 507M269 479L193 485M269 479L311 542" stroke-width="9"/><path d="M386 248Q308 341 262 501" stroke-width="5"/></g><clipPath id="lf27"><path d="M375 282Q286 349 362 458Q453 362 375 282Z"/></clipPath><path d="M375 282Q286 349 362 458Q453 362 375 282Z" fill="#fff" stroke="#000" stroke-width="8" stroke-linejoin="round"/><g clip-path="url(#lf27)" fill="none" stroke="#000"><path d="M373 309L321 334M373 309L421 342M371 338L319 363M371 338L419 371M369 369L316 395M369 369L416 402M366 402L314 427M366 402L414 435M363 437L311 462M363 437L411 470" stroke-width="9"/><path d="M375 282Q370 356 362 458" stroke-width="5"/></g></svg>
<div id="t0" class="t num" style="left:16.56px;top:21.09px;transform:scaleX(1.0000)"><span class="lo">7</span></div>
<a id="t1" class="t lnk" style="left:46.71px;top:21.09px;transform:scaleX(1.1504)">L<span class="sm">2</span>/<span class="sm">1</span>8-<span class="lo">3</span><span class="sm">2</span><span class="lo">9</span></a>
<div id="t2" class="t ln" style="left:346.60px;top:21.09px;transform:scaleX(1.0908)">Elevator</div>
<div id="t3" class="t ln bl" style="left:415.60px;top:43.09px;transform:scaleX(1.1102)">Decent statistics compared to</div>
<div class="dot" style="left:383.1px;top:49.1px"></div>
<div id="t4" class="t ln" style="left:416.24px;top:66.09px;transform:scaleX(1.0877)">Ambulance</div>
<div id="t5" class="t ln bl" style="left:415.60px;top:89.09px;transform:scaleX(1.0949)">May also represent mobility in</div>
<div class="dot" style="left:383.1px;top:95.1px"></div>
<div id="t6" class="t ln" style="left:416.45px;top:112.09px;transform:scaleX(1.1086)">multi-level buildings (an alternative</div>
<div id="t7" class="t ln" style="left:417.03px;top:134.09px;transform:scaleX(1.1312)">to stairs)</div>
<div id="t8" class="t num" style="left:17.38px;top:188.09px;transform:scaleX(1.0000)">8</div>
<a id="t9" class="t lnk" style="left:46.71px;top:188.09px;transform:scaleX(1.1576)">L<span class="sm">2</span>/<span class="sm">1</span>8-<span class="lo">3</span><span class="lo">3</span><span class="sm">1</span></a>
<div id="t10" class="t ln" style="left:346.60px;top:188.09px;transform:scaleX(1.0983)">Boomerang</div>
<div id="t11" class="t ln bl" style="left:416.13px;top:210.09px;transform:scaleX(1.1011)">Multiple uses</div>
<div class="dot" style="left:383.1px;top:216.1px"></div>
<div id="t12" class="t ln bl" style="left:415.97px;top:233.09px;transform:scaleX(1.1319)">From an under-represented region</div>
<div class="dot" style="left:383.1px;top:239.1px"></div>
<div id="t13" class="t ln bl" style="left:416.24px;top:256.09px;transform:scaleX(1.0896)">Visually distinct</div>
<div class="dot" style="left:383.1px;top:262.1px"></div>
<div id="t14" class="t num" style="left:17.13px;top:289.09px;transform:scaleX(1.0000)"><span class="lo">9</span></div>
<a id="t15" class="t lnk" style="left:46.71px;top:289.09px;transform:scaleX(1.1576)">L<span class="sm">2</span>/<span class="sm">1</span>8-<span class="lo">3</span><span class="lo">4</span><span class="sm">1</span></a>
<div id="t16" class="t ln" style="left:346.60px;top:289.09px;transform:scaleX(1.0894)">Bubble Tea</div>
<div id="t17" class="t ln bl" style="left:416.13px;top:312.09px;transform:scaleX(1.1268)">Popular request</div>
<div class="dot" style="left:383.1px;top:318.1px"></div>
<div id="t18" class="t ln bl" style="left:416.24px;top:334.09px;transform:scaleX(1.0896)">Visually distinct</div>
<div class="dot" style="left:383.1px;top:340.1px"></div>
<div id="t19" class="t num" style="left:17.60px;top:389.09px;transform:scaleX(0.9036)"><span class="sm">1</span><span class="sm">0</span></div>
<a id="t20" class="t lnk" style="left:46.71px;top:389.09px;transform:scaleX(1.1504)">L<span class="sm">2</span>/<span class="sm">1</span>8-<span class="lo">3</span><span class="lo">4</span><span class="lo">3</span></a>
<div id="t21" class="t ln" style="left:347.50px;top:389.09px;transform:scaleX(1.1153)">Worm</div>
<div id="t22" class="t ln bl" style="left:416.13px;top:412.09px;transform:scaleX(1.1080)">Multiple uses and contexts</div>
<div class="dot" style="left:383.1px;top:418.1px"></div>
<div id="t23" class="t ln bl" style="left:416.24px;top:435.09px;transform:scaleX(1.0896)">Visually distinct</div>
<div class="dot" style="left:383.1px;top:441.1px"></div>
<div id="t24" class="t num" style="left:17.60px;top:489.09px;transform:scaleX(0.8276)"><span class="sm">1</span><span class="sm">1</span></div>
<a id="t25" class="t lnk" style="left:46.71px;top:489.09px;transform:scaleX(1.1524)">L<span class="sm">2</span>/<span class="sm">1</span>8-<span class="sm">2</span>6<span class="sm">1</span></a>
<div id="t26" class="t ln" style="left:346.60px;top:489.09px;transform:scaleX(1.1362)">Potted Plant</div>
<div id="t27" class="t ln bl" style="left:416.71px;top:512.09px;transform:scaleX(1.1115)">Reasonable statistics</div>
<div class="dot" style="left:383.1px;top:518.1px"></div>
<div id="t28" class="t ln bl" style="left:416.13px;top:535.09px;transform:scaleX(1.1024)">Potentially broad as concept of</div>
<div class="dot" style="left:383.1px;top:541.1px"></div>
<div id="t29" class="t ln" style="left:415.34px;top:558.09px;transform:scaleX(1.1195)">“indoors”</div>
<div id="t30" class="t num" style="left:17.60px;top:590.09px;transform:scaleX(0.9562)"><span class="sm">1</span><span class="sm">2</span></div>
<a id="t31" class="t lnk" style="left:46.71px;top:590.09px;transform:scaleX(1.1359)">L<span class="sm">2</span>/<span class="sm">1</span>8-<span class="lo">3</span><span class="sm">2</span><span class="lo">7</span></a>
<div id="t32" class="t ln" style="left:346.60px;top:590.09px;transform:scaleX(1.1078)">Hook</div>
<div id="t33" class="t ln bl" style="left:416.13px;top:612.09px;transform:scaleX(1.1011)">Multiple uses</div>
<div class="dot" style="left:383.1px;top:618.1px"></div>
<div id="t34" class="t ln bl" style="left:416.24px;top:635.09px;transform:scaleX(1.0896)">Visually distinct</div>
<div class="dot" style="left:383.1px;top:641.1px"></div>
<div class="ul" style="left:47.1px;top:37.0px;width:90.6px;height:3.0px"></div>
<div class="ul" style="left:47.1px;top:205.0px;width:88.8px;height:3.0px"></div>
<div class="ul" style="left:47.1px;top:306.2px;width:88.8px;height:1.9px"></div>
<div class="ul" style="left:47.1px;top:406.2px;width:90.6px;height:1.9px"></div>
<div class="ul" style="left:47.1px;top:506.0px;width:88.2px;height:3.0px"></div>
<div class="ul" style="left:47.1px;top:607.2px;width:89.8px;height:1.9px"></div>
</body></html>
